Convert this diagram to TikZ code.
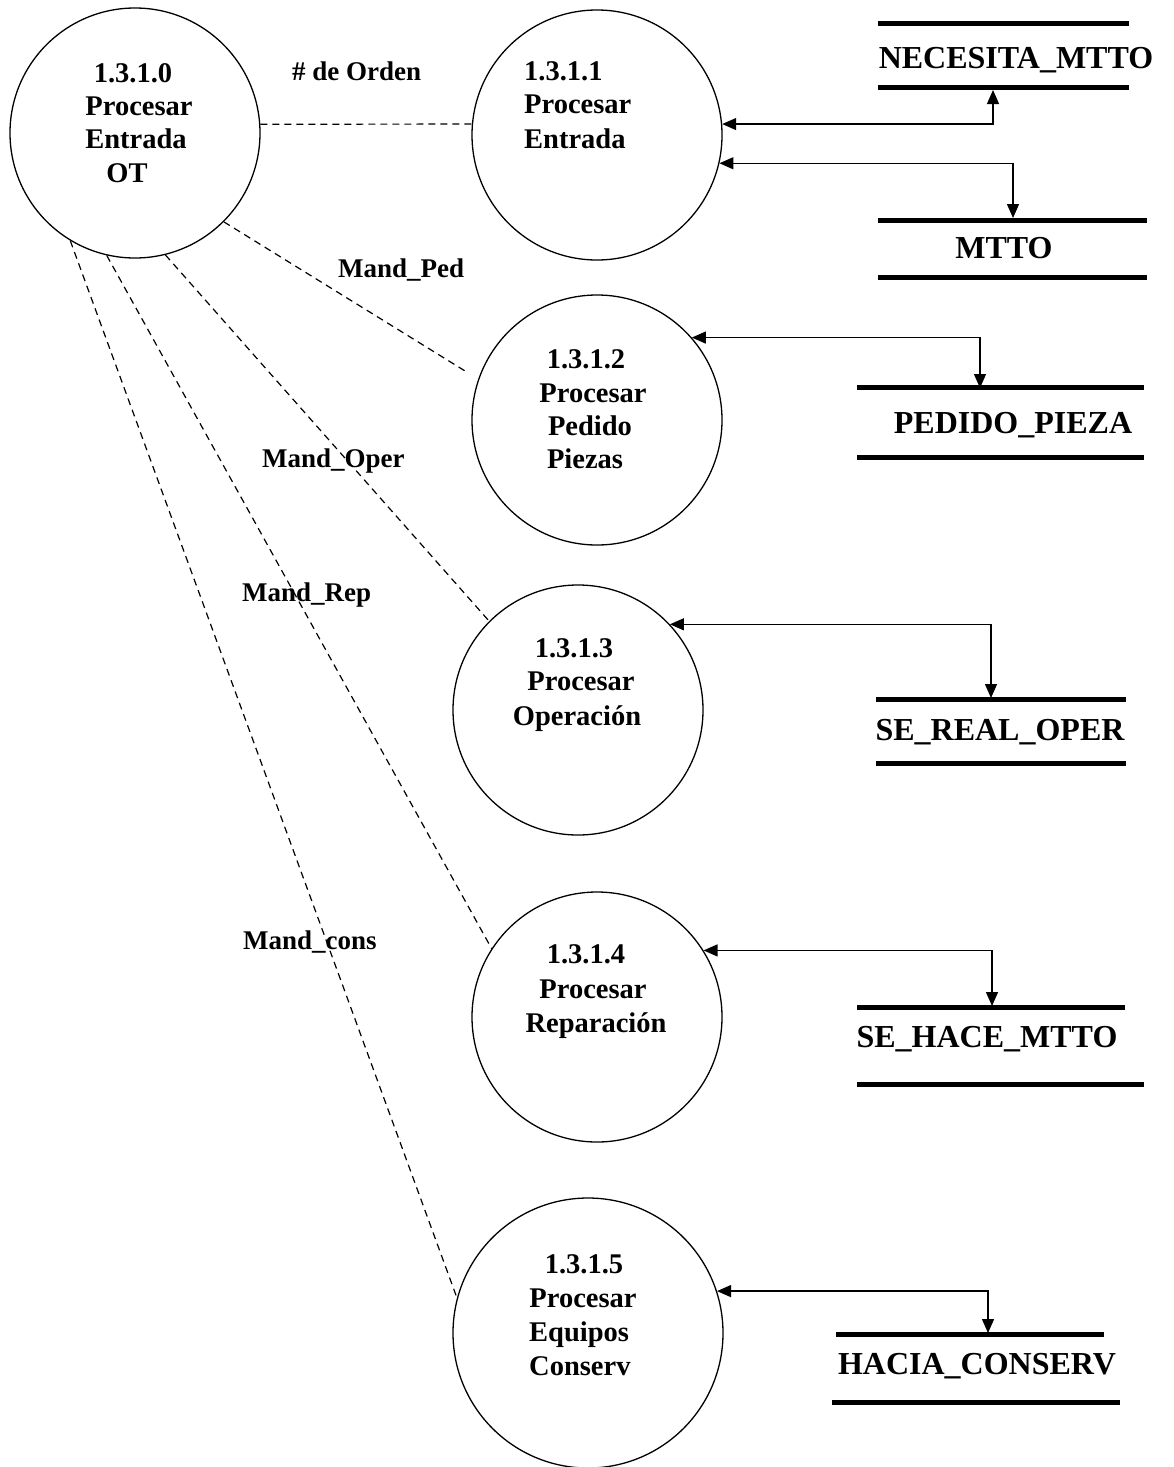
\documentclass[tikz,border=0pt]{standalone}
\usepackage{fontspec}
\setmainfont{Liberation Serif}
\usetikzlibrary{arrows.meta}
\tikzset{
  proc/.style={circle,draw,line width=1.3pt,inner sep=0pt,minimum size=250pt},
  bigproc/.style={proc,minimum size=270pt},
  ctext/.style={anchor=base,inner sep=0pt,font=\fontsize{28.5}{34}\selectfont\bfseries},
  ctextw/.style={ctext,anchor=base west},
  lbl/.style={anchor=base west,inner sep=0pt,font=\fontsize{27}{32}\selectfont\bfseries},
  stxt/.style={anchor=base,inner sep=0pt,font=\fontsize{32}{38}\selectfont\bfseries},
  storeline/.style={line width=5pt},
  dflow/.style={dash pattern=on 7pt off 5pt,line width=1.2pt},
  flow/.style={line width=1.3pt,{Triangle[length=14pt,width=12pt]}-{Triangle[length=14pt,width=12pt]}}
}
\begin{document}
\begin{tikzpicture}[x=1pt,y=-1pt]
\useasboundingbox (0,0) rectangle (1173,1467);
% processes
\node[proc] (A) at (135,133) {};
\node[proc] (B) at (597,135) {};
\node[proc] (C) at (597,420) {};
\node[proc] (D) at (578,710) {};
\node[proc] (E) at (597,1017) {};
\node[bigproc] (F) at (588,1333) {};
% process texts
\node[ctext] (a1) at (133,82) {1.3.1.0};
\node[ctext] (a2) at (139,115) {Procesar};
\node[ctext] (a3) at (136,148) {Entrada};
\node[ctext] (a4) at (127,182) {OT};
\node[ctextw] (b1) at (524,80) {1.3.1.1};
\node[ctextw] (b2) at (524,113) {Procesar};
\node[ctextw] (b3) at (524,148) {Entrada};
\node[ctext] (c1) at (586,368) {1.3.1.2};
\node[ctext] (c2) at (593,402) {Procesar};
\node[ctext] (c3) at (590,435) {Pedido};
\node[ctext] (c4) at (585,468) {Piezas};
\node[ctext] (d1) at (574,657) {1.3.1.3};
\node[ctext] (d2) at (581,690) {Procesar};
\node[ctext] (d3) at (577,725) {Operación};
\node[ctext] (e1) at (586,963) {1.3.1.4};
\node[ctext] (e2) at (593,998) {Procesar};
\node[ctext] (e3) at (596,1032) {Reparación};
\node[ctext] (f1) at (584,1273) {1.3.1.5};
\node[ctext] (f2) at (583,1307) {Procesar};
\node[ctextw] (f3) at (529,1341) {Equipos};
\node[ctextw] (f4) at (529,1375) {Conserv};
% labels
\node[lbl] (l0) at (292,80) {\# de Orden};
\node[lbl] (l1) at (338,277) {Mand\_Ped};
\node[lbl] (l2) at (262,467) {Mand\_Oper};
\node[lbl] (l3) at (242,601) {Mand\_Rep};
\node[lbl] (l4) at (243,949) {Mand\_cons};
% dashed connections
\draw[dflow] (A.4) -- (B.175);
\draw[dflow,shorten >=13pt] (A.-45) -- (C.161);
\draw[dflow] (A.-76) -- (D.135);
\draw[dflow] (A.-103) -- (E.147);
\draw[dflow] (A.-121) -- (F.165);
% stores
\coordinate (n1) at (878,23); \coordinate (n2) at (1129,23);
\coordinate (n3) at (878,87); \coordinate (n4) at (1129,87);
\draw[storeline] (n1) -- (n2); \draw[storeline] (n3) -- (n4);
\node[stxt] (nec) at (1016,68) {NECESITA\_MTTO};
\coordinate (m1) at (878,220); \coordinate (m2) at (1147,220);
\coordinate (m3) at (878,277); \coordinate (m4) at (1147,277);
\draw[storeline] (m1) -- (m2); \draw[storeline] (m3) -- (m4);
\node[stxt] (mtto) at (1004,258) {MTTO};
\coordinate (p1) at (857,387); \coordinate (p2) at (1144,387);
\coordinate (p3) at (857,457); \coordinate (p4) at (1144,457);
\draw[storeline] (p1) -- (p2); \draw[storeline] (p3) -- (p4);
\node[stxt] (ped) at (1013,433) {PEDIDO\_PIEZA};
\coordinate (r1) at (876,699); \coordinate (r2) at (1126,699);
\coordinate (r3) at (876,763); \coordinate (r4) at (1126,763);
\draw[storeline] (r1) -- (r2); \draw[storeline] (r3) -- (r4);
\node[stxt] (real) at (1000,740) {SE\_REAL\_OPER};
\coordinate (h1) at (857,1007); \coordinate (h2) at (1125,1007);
\coordinate (h3) at (857,1084); \coordinate (h4) at (1144,1084);
\draw[storeline] (h1) -- (h2); \draw[storeline] (h3) -- (h4);
\node[stxt] (hace) at (987,1047) {SE\_HACE\_MTTO};
\coordinate (k1) at (836,1334); \coordinate (k2) at (1104,1334);
\coordinate (k3) at (832,1402); \coordinate (k4) at (1120,1402);
\draw[storeline] (k1) -- (k2); \draw[storeline] (k3) -- (k4);
\node[stxt] (cons) at (977,1374) {HACIA\_CONSERV};
% flow arrows
\coordinate (nin) at (993,90);
\coordinate (min) at (1013,218);
\coordinate (pin) at (980,388);
\coordinate (rin) at (991,698);
\coordinate (hin) at (992,1006);
\coordinate (kin) at (988,1333);
\draw[flow] (nin) |- (B.5);
\draw[flow] (min) |- (B.-13);
\draw[flow] (pin) |- (C.41);
\draw[flow] (rin) |- (D.43);
\draw[flow] (hin) |- (E.32);
\draw[flow] (kin) |- (F.18);
\end{tikzpicture}
\end{document}
